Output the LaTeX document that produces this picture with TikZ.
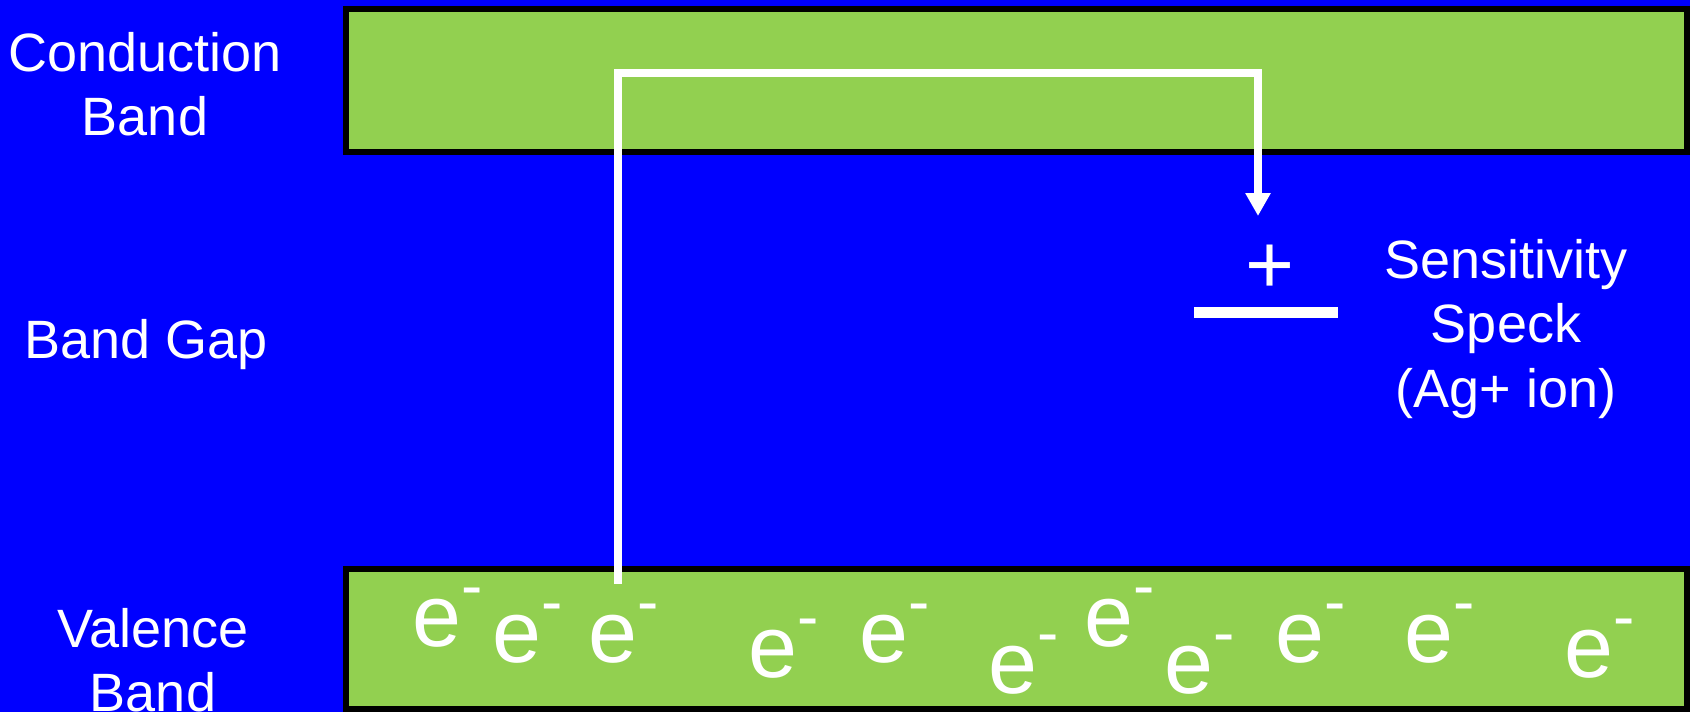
\documentclass[tikz,border=0pt]{standalone}
\usepackage{fontspec}
\setmainfont{Liberation Sans}
\usetikzlibrary{arrows.meta}
\definecolor{bgblue}{HTML}{0000FF}
\definecolor{bandgreen}{HTML}{92D050}
\newcommand\esup{e\raisebox{38.5pt}{\fontsize{64}{64}\selectfont -}}
\tikzset{
  lbl/.style={text=white, font=\fontsize{54}{64}\selectfont, inner sep=0pt, anchor=base},
  elec/.style={text=white, font=\fontsize{88}{90}\selectfont, inner sep=0pt, anchor=base west},
  band/.style={fill=bandgreen, draw=black, line width=6pt},
  jump/.style={draw=white, line width=7.5pt, -{Triangle[width=24pt,length=23pt]}},
}
\begin{document}
\begin{tikzpicture}[x=1pt,y=-1pt]
\useasboundingbox (0,0) rectangle (1690,712);
\fill[bgblue] (0,0) rectangle (1690,712);
% bands
\draw[band] (346,9) rectangle (1687,152);
\draw[band] (346,569) rectangle (1687,709);
% left labels
\node[lbl] (cb1) at (145,71) {Conduction};
\node[lbl] (cb2) at (145,135) {Band};
\node[lbl] (gap) at (146,358) {Band Gap};
\node[lbl] (vb1) at (153,647) {Valence};
\node[lbl] (vb2) at (153,711) {Band};
% sensitivity speck
\node[lbl] (ss1) at (1506,278) {Sensitivity};
\node[lbl] (ss2) at (1506,342) {Speck};
\node[lbl] (ss3) at (1506,407) {(Ag+ ion)};
\node[text=white, font=\fontsize{84}{84}\selectfont, inner sep=0pt, anchor=base] (plus) at (1270,293) {+};
\node[fill=white, minimum width=144pt, minimum height=11pt, inner sep=0pt] (speck) at (1266,312.5) {};
% electrons
\node[elec] (e1) at (412.5,646) {\esup};
\node[elec] (e2) at (492.5,662) {\esup};
\node[elec] (e3) at (588.5,662) {\esup};
\node[elec] (e4) at (748.5,677) {\esup};
\node[elec] (e5) at (859.5,662) {\esup};
\node[elec] (e6) at (988.5,693) {\esup};
\node[elec] (e7) at (1084.5,646) {\esup};
\node[elec] (e8) at (1164.5,693) {\esup};
\node[elec] (e9) at (1275.5,662) {\esup};
\node[elec] (e10) at (1404.5,662) {\esup};
\node[elec] (e11) at (1564.5,677) {\esup};
% excitation path
\coordinate (start) at (618,584);
\coordinate (tip) at (1258,216);
\draw[jump] (start) |- (1258,73) -- (tip);
\end{tikzpicture}
\end{document}
